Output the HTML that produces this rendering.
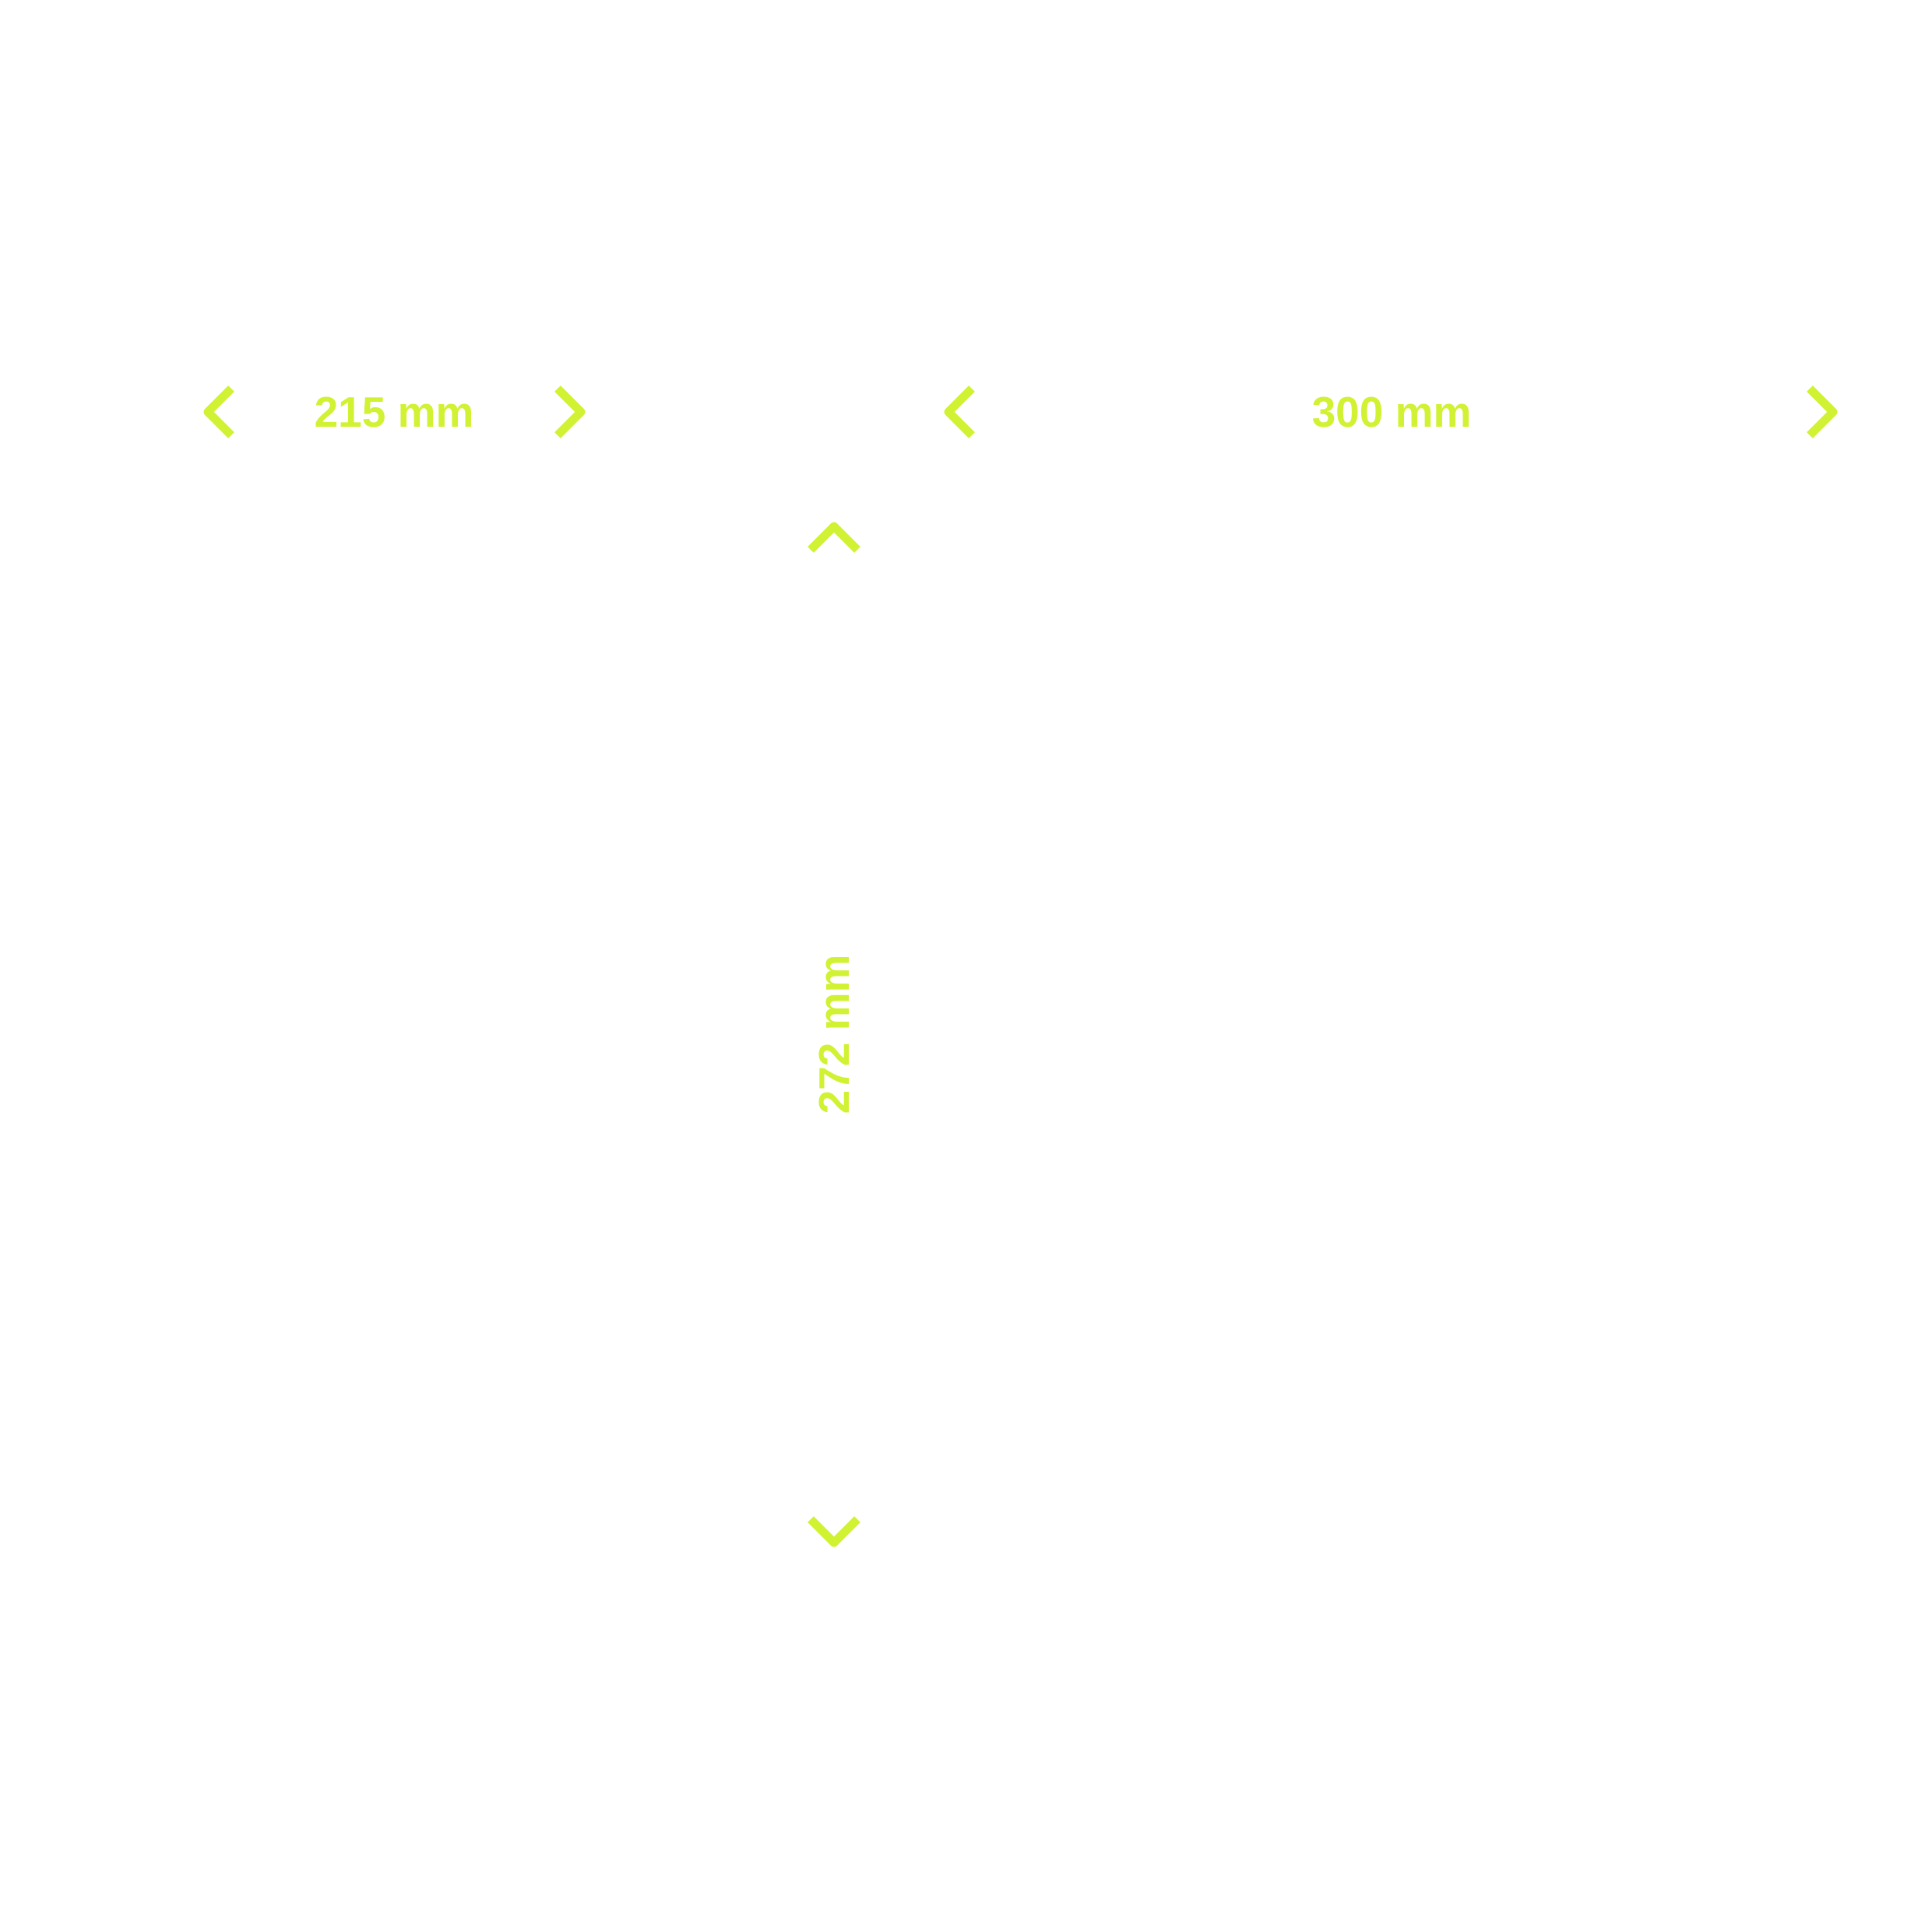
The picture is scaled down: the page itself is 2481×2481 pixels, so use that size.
<!DOCTYPE html>
<html><head><meta charset="utf-8"><style>
html,body{margin:0;padding:0;background:#fff;}
svg{display:block;}
text{font-family:"Liberation Sans",sans-serif;font-weight:bold;fill:#d0f233;}
</style></head><body>
<svg width="2481" height="2481" viewBox="0 0 2481 2481" xmlns="http://www.w3.org/2000/svg">
<g fill="none" stroke="#d0f233" stroke-width="11" stroke-linejoin="round">
<polyline points="297,499 267,529 297,559"/>
<polyline points="716,499 746,529 716,559"/>
<polyline points="1248,499 1218,529 1248,559"/>
<polyline points="2324,499 2354,529 2324,559"/>
<polyline points="1041,706 1071,676 1101,706"/>
<polyline points="1041,1951 1071,1981 1101,1951"/>
</g>
<text x="506" y="548" font-size="55" text-anchor="middle">215 mm</text>
<text x="1787" y="548" font-size="55" text-anchor="middle">300 mm</text>
<text x="0" y="0" font-size="55" text-anchor="middle" transform="translate(1090,1328) rotate(-90)">272 mm</text>
</svg>
</body></html>
